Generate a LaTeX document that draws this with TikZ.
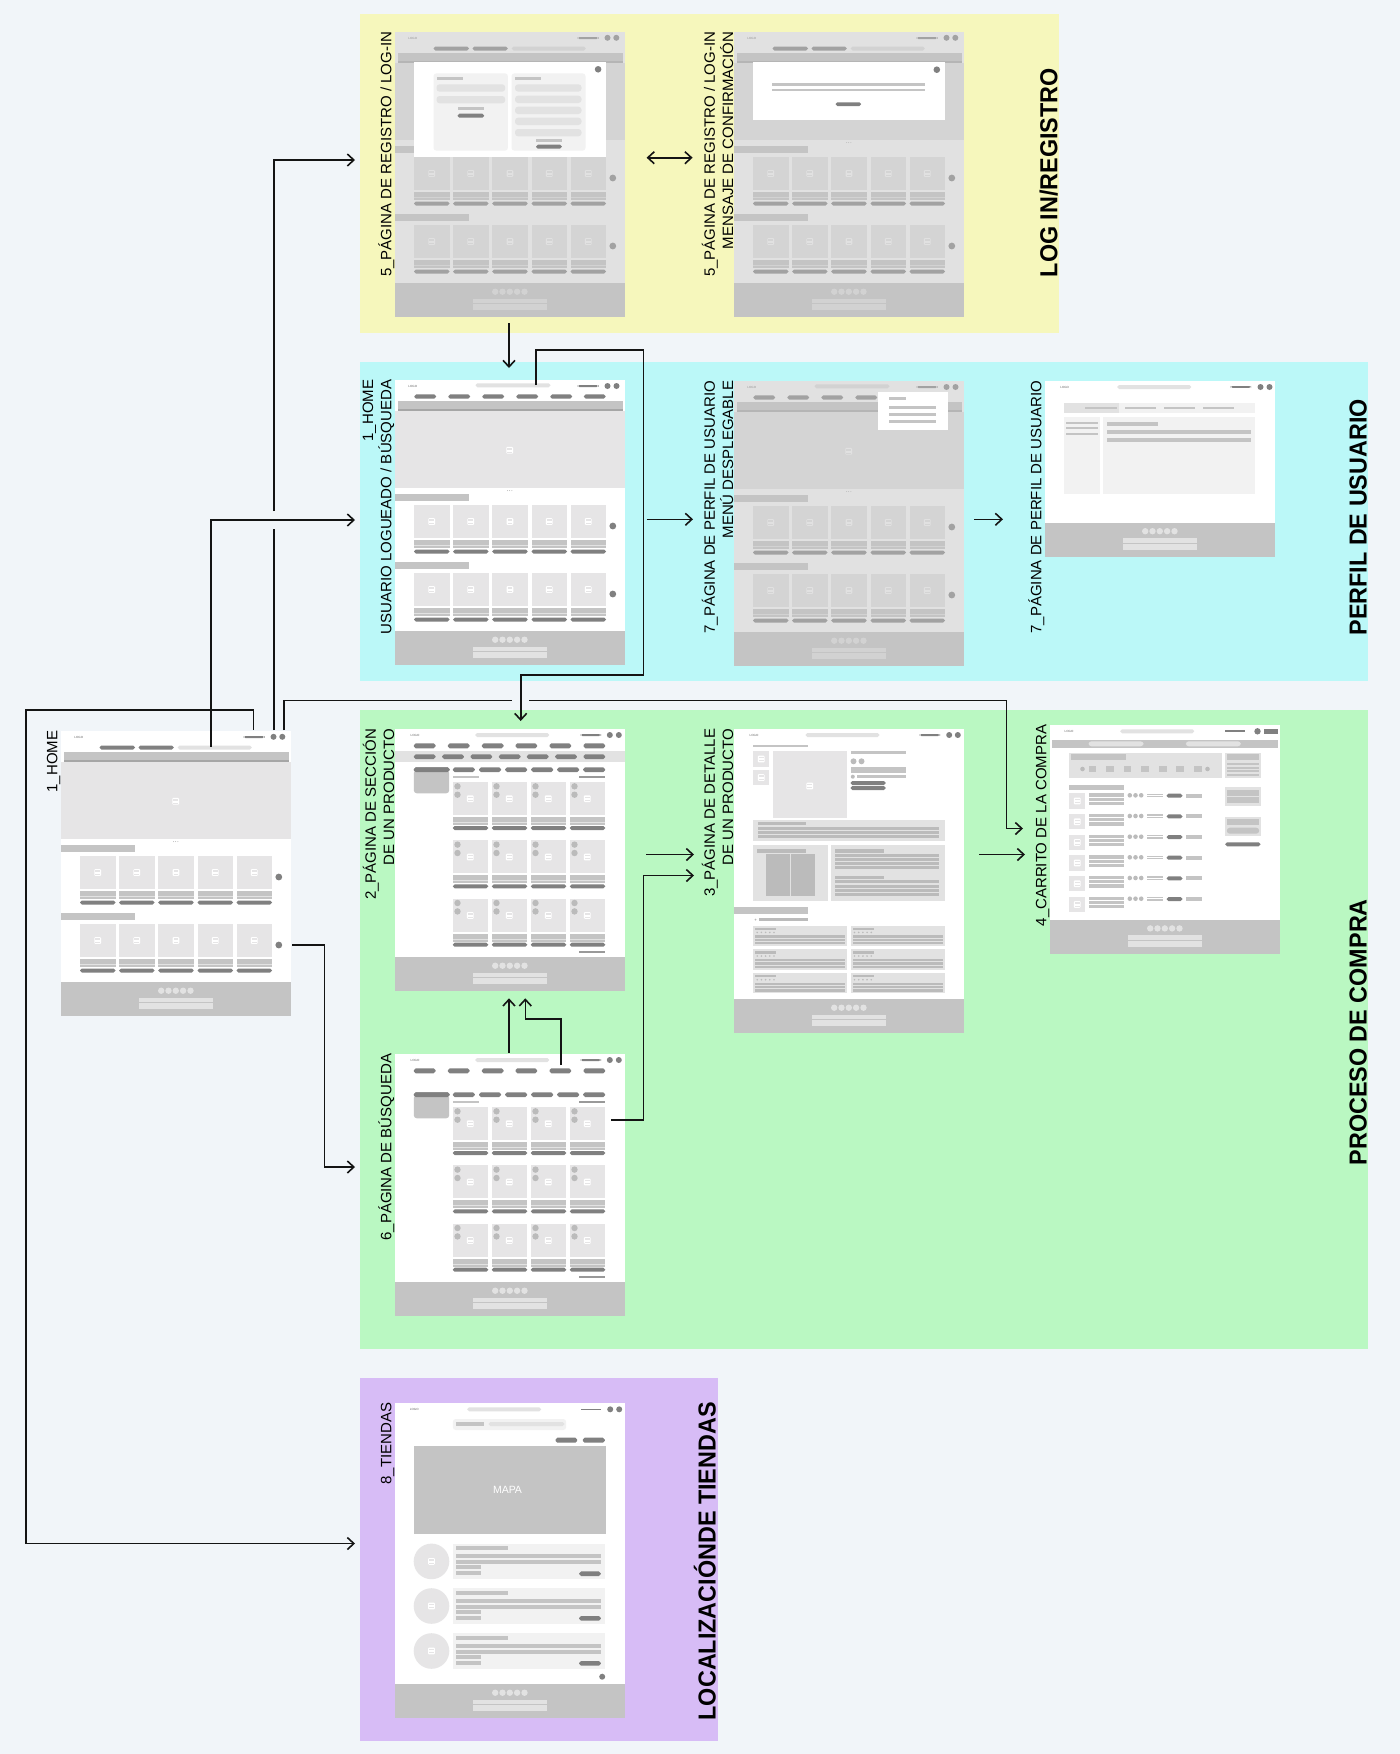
\documentclass[tikz,border=0pt]{standalone}
\usepackage{fontspec}
\setmainfont{Liberation Sans}
\newfontfamily\ttlfont[FakeStretch=0.95]{Liberation Sans}
\usetikzlibrary{arrows.meta}
\definecolor{bgpage}{HTML}{F1F5F9}
\definecolor{pyellow}{HTML}{F6F7BC}
\definecolor{pcyan}{HTML}{BBF8F8}
\definecolor{pgreen}{HTML}{BAF8C2}
\definecolor{ppurple}{HTML}{D7BCF6}
\definecolor{gA}{HTML}{C4C4C4}
\definecolor{gB}{HTML}{808080}
\definecolor{gC}{HTML}{E2E2E2}
\definecolor{gD}{HTML}{F2F2F2}
\definecolor{gE}{HTML}{E6E5E6}
\definecolor{gF}{HTML}{BBBBBB}
\definecolor{gG}{HTML}{999999}
\definecolor{gH}{HTML}{666666}
\definecolor{lnk}{HTML}{141414}
\newcommand\wfR[5]{\fill[#5] (#1,#2) rectangle (#3,#4);}
\newcommand\wfP[5]{\fill[#5,rounded corners=1.9pt] (#1,#2) rectangle (#3,#4);}
\newcommand\wfQ[5]{\fill[#5,rounded corners=3pt] (#1,#2) rectangle (#3,#4);}
\newcommand\wfD[4]{\fill[#4] (#1,#2) circle[radius=#3pt];}
\newcommand\wfI[2]{\begin{scope}[shift={(#1,#2)}]
  \fill[white,rounded corners=1pt] (-3.4,-3.4) rectangle (3.4,3.4);
  \fill[gE] (-2.4,-2.2) rectangle (2.4,-0.6);
  \fill[gE] (-2.4,1.2) rectangle (2.4,2.3);
\end{scope}}
\newcommand\wfLogo[2]{\node[logotxt] at (#1,#2) {LOGO};}
\newcommand\wfFooter[2][230.5]{\wfR{0}{#2}{#1}{#2+34}{gA}
  \foreach \cx in {100.7,108,115.3,122.6,130}{\wfD{\cx}{#2+8.7}{3.2}{gC}}
  \wfR{78}{#2+15.5}{152.7}{#2+20}{gC}
  \wfR{78}{#2+21.3}{152.7}{#2+27}{gC}}
\newcommand\wfCardsFive[1]{\foreach \cx in {19.5,58.6,97.7,137,176}{
  \wfR{\cx}{#1}{\cx+35.5}{#1+33}{gE}
  \wfI{\cx+17.7}{#1+16.5}
  \wfR{\cx}{#1+35}{\cx+35.5}{#1+43}{gA}
  \wfR{\cx}{#1+40}{\cx+35.5}{#1+40.8}{gC}
  \wfP{\cx}{#1+44.5}{\cx+35.5}{#1+48.5}{gB}}}
\newcommand\wfBody{
  \wfR{3}{21.3}{228}{30.5}{gA}
  \wfR{3}{29.2}{228}{30.8}{gG!70!gA}
  \wfR{0}{30.5}{230.5}{108.3}{gE}
  \wfI{115.2}{70.3}
  \foreach \cx in {113,115.2,117.4}{\wfD{\cx}{110.5}{0.5}{gF}}
  \wfR{0}{114}{74.5}{121}{gA}
  \wfCardsFive{125}
  \wfD{218.3}{146}{3.4}{gB}
  \wfR{0}{182.3}{74.5}{189.3}{gA}
  \wfCardsFive{193}
  \wfD{218.3}{214}{3.4}{gB}
  \wfFooter{251}}
\newcommand\wfHeadA{
  \wfLogo{18.3}{6.5}
  \wfP{183}{5}{204}{7}{gB}
  \wfD{213}{5.8}{3}{gB}
  \wfD{221.8}{5.8}{3}{gB}
  \wfP{39}{14.5}{74.5}{18.5}{gB}
  \wfP{78}{14.5}{113.3}{18.5}{gB}
  \wfP{117.2}{14.5}{191.3}{18.5}{gC}}
\newcommand\wfHeadB{
  \wfLogo{18.3}{6.5}
  \wfP{81}{3.3}{156}{7.3}{gC}
  \wfP{183}{5}{204}{7}{gB}
  \wfD{213}{6}{3}{gB}
  \wfD{222}{6}{3}{gB}
  \foreach \cx in {19.8,53.8,87.8,121.8,155.8,189.4}{\wfP{\cx}{14.3}{\cx+21.7}{18.7}{gB}}}
\newcommand\wfHeadC[3]{
  \wfLogo{20.5}{6.3}
  \wfP{#1}{4}{#1+74}{8}{gC}
  \wfP{186}{5}{206.5}{7}{gB}
  \wfD{#2}{6}{3}{gB}
  \wfD{#3}{6}{3}{gB}}
\newcommand\wfShade[1]{\fill[gA,opacity=.5] (0,0) rectangle (230.5,#1);}
\newcommand\wfShopCards{
  \foreach \ry in {53,111.3,169.7}{
    \foreach \cx in {58.3,97.3,136.3,175.3}{
      \wfR{\cx}{\ry}{\cx+35.5}{\ry+33}{gE}
      \wfD{\cx+4.7}{\ry+4.3}{3.2}{gF}
      \wfD{\cx+4.7}{\ry+12.7}{3.2}{gF}
      \wfI{\cx+17.5}{\ry+16.7}
      \wfR{\cx}{\ry+35}{\cx+35.5}{\ry+43}{gA}
      \wfR{\cx}{\ry+40}{\cx+35.5}{\ry+40.8}{gC}
      \wfP{\cx}{\ry+44}{\cx+35.5}{\ry+48}{gB}}}}
\newcommand\wfShopBody{
  \wfP{19.3}{38.3}{55}{43}{gB}
  \wfQ{19.3}{41}{54.7}{64.3}{gA}
  \wfP{19.3}{38.3}{55}{43}{gB}
  \foreach \cx in {58.3,84.6,110.7,136.7,162.7,188.7}{\wfP{\cx}{38.3}{\cx+22}{43}{gB}}
  \wfR{58.3}{47}{84.3}{49.3}{gA}
  \wfR{184.7}{47}{210.7}{49.3}{gG}
  \wfShopCards
  \wfR{184.7}{222}{210.7}{224.3}{gG}
  \wfFooter{228}}
\newcommand\wfHeadShop{
  \wfHeadC{80.7}{215.3}{224.3}
  \foreach \cx in {19.3,53.3,87.3,121,155,189}{\wfP{\cx}{14.3}{\cx+21.7}{19.3}{gB}}}
\tikzset{
  x=1pt,y=-1pt,
  logotxt/.style={font=\fontsize{3}{3.2}\selectfont,text=gH,inner sep=0pt},
  panel/.style={inner sep=0pt,outer sep=0pt,anchor=north west},
  page/.style={panel,fill=white,minimum width=230.5pt},
  pagelabel/.style={rotate=90,anchor=south east,inner sep=0pt,align=right,text=black,xshift=0.4pt,font=\fontsize{15}{18.3}\selectfont},
  grouptitle/.style={rotate=90,inner sep=0pt,text=black,font=\ttlfont\fontsize{24.6}{26}\selectfont\bfseries,anchor=south east},
  link/.style={draw=lnk,line width=1.6pt},
  linka/.style={link,-{Straight Barb[length=6.5pt,width=12pt,line width=1.6pt]}},
  linkb/.style={link,{Straight Barb[length=6.5pt,width=12pt,line width=1.6pt]}-{Straight Barb[length=6.5pt,width=12pt,line width=1.6pt]}},
}
\begin{document}
\begin{tikzpicture}
\useasboundingbox (0,0) rectangle (1400,1754);
\fill[bgpage] (0,0) rectangle (1400,1754);
% group panels
\node[panel,fill=pyellow,minimum width=698.5pt,minimum height=319pt] (gLogin) at (360,14) {};
\node[panel,fill=pcyan,minimum width=1007.5pt,minimum height=318.5pt] (gProfile) at (360,362) {};
\node[panel,fill=pgreen,minimum width=1007.5pt,minimum height=639.5pt] (gBuy) at (360,709.5) {};
\node[panel,fill=ppurple,minimum width=358pt,minimum height=363pt] (gStores) at (360,1378) {};
% page frames
\node[page,minimum height=285pt] (pHome) at (60.5,731) {};
\node[page,minimum height=285pt] (pLoginA) at (394.5,32) {};
\node[page,minimum height=285pt] (pLoginB) at (733.5,32) {};
\node[page,minimum height=285pt] (pUser) at (394.5,380) {};
\node[page,minimum height=285pt] (pMenu) at (733.5,381) {};
\node[page,minimum height=175pt] (pProfile) at (1044.5,381) {};
\node[page,minimum height=262pt] (pSection) at (394.5,729) {};
\node[page,minimum height=304pt] (pDetail) at (733.5,729) {};
\node[page,minimum height=229pt] (pCart) at (1049.5,725) {};
\node[page,minimum height=262pt] (pSearch) at (394.5,1054) {};
\node[page,minimum height=315pt] (pStores) at (394.5,1403) {};
% home
\begin{scope}[shift={(60.5,731)}]
  \wfHeadA \wfBody
\end{scope}
% login A
\begin{scope}[shift={(394.5,32)}]
  \wfHeadA \wfBody \wfShade{285}
  \wfR{19.6}{30}{211}{124.7}{white}
  \wfD{203.6}{37.3}{3.3}{gB}
  \wfQ{39}{41.3}{113.4}{118.7}{gD}
  \wfQ{117}{41.3}{191}{118.7}{gD}
  \wfR{42}{45.3}{68.5}{47.7}{gA}
  \wfR{120.5}{45.3}{146.4}{47.7}{gA}
  \wfQ{42}{52.3}{110.7}{59.7}{gC}
  \wfQ{42}{64}{110.7}{71.3}{gC}
  \wfR{63}{75.3}{89.7}{78}{gA}
  \wfP{63}{81.7}{89.7}{85.7}{gB}
  \foreach \ry in {52.3,63.7,74.7,85.7,97}{\wfQ{120.5}{\ry}{187}{\ry+7.3}{gC}}
  \wfR{141.5}{107.3}{167.4}{110}{gA}
  \wfP{141.5}{112.7}{167.4}{116.7}{gB}
\end{scope}
% login B
\begin{scope}[shift={(733.5,32)}]
  \wfHeadA \wfBody \wfShade{285}
  \wfR{19.6}{30.3}{211}{88.3}{white}
  \wfD{203.3}{37.7}{3.3}{gB}
  \wfR{38.8}{51}{191.5}{53.7}{gA}
  \wfR{38.8}{56.7}{191.5}{59.3}{gA}
  \wfP{102}{70.3}{127.7}{74}{gB}
\end{scope}
% logged user home
\begin{scope}[shift={(394.5,380)}]
  \wfHeadB \wfBody
\end{scope}
% user menu
\begin{scope}[shift={(733.5,381)}]
  \wfHeadB \wfBody \wfShade{285}
  \wfR{144.7}{11}{214.3}{48.7}{white}
  \wfR{155.4}{16.3}{172}{18.7}{gA}
  \wfR{155.4}{25.3}{202.5}{27.7}{gA}
  \wfR{155.4}{32.3}{202.5}{34.7}{gA}
  \wfR{155.4}{39}{202.5}{41.7}{gA}
\end{scope}
% profile
\begin{scope}[shift={(1044.5,381)}]
  \wfLogo{20.2}{6.3}
  \wfP{72.7}{4}{146.7}{8}{gC}
  \wfP{186}{5}{206.7}{6.8}{gB}
  \wfD{216}{6}{3}{gB}
  \wfD{225}{6}{3}{gB}
  \wfR{19.7}{21.7}{210.7}{31.7}{gD}
  \wfR{19.7}{21.7}{74.7}{31.7}{gC}
  \foreach \cx in {40.7,80,119,158}{\wfR{\cx}{25.7}{\cx+31.5}{28}{gA}}
  \wfR{19.7}{36.3}{55}{113}{gD}
  \wfR{21.7}{40.7}{53}{43}{gA}
  \wfR{21.7}{46}{53}{48.3}{gA}
  \wfR{21.7}{51.7}{53}{54}{gA}
  \wfR{58.7}{36.3}{210.7}{113}{gD}
  \wfR{62}{40.7}{113.3}{45}{gA}
  \wfR{62}{48.7}{206.7}{53}{gA}
  \wfR{62}{56.7}{206.7}{61}{gA}
  \wfFooter{141.5}
\end{scope}
% section
\begin{scope}[shift={(394.5,729)}]
  \wfHeadShop
  \wfR{0}{22.3}{230.5}{33}{gC}
  \foreach \cx in {19.3,47.7,76,104.3,132.3,160.7,189}{\wfP{\cx}{25.3}{\cx+21.7}{30}{gB}}
  \wfShopBody
\end{scope}
% search
\begin{scope}[shift={(394.5,1054)}]
  \wfHeadShop
  \wfShopBody
\end{scope}
% detail
\begin{scope}[shift={(733.5,729)}]
  \wfHeadC{72}{215.7}{224.3}
  \wfR{19.7}{15.7}{74.7}{18}{gA}
  \wfR{19.7}{22.3}{35.7}{37.7}{gE} \wfI{27.7}{30}
  \wfR{19.7}{41}{35.7}{56}{gE} \wfI{27.7}{48.5}
  \wfR{39}{22.3}{113.7}{89.3}{gE} \wfI{76.3}{57}
  \wfR{117}{22.3}{172}{25}{gA}
  \wfD{120}{32.3}{3}{gF}
  \wfD{128}{32.3}{3}{gF}
  \wfR{117}{37.7}{172}{44.3}{gA}
  \wfD{119.3}{47.7}{2}{gF}
  \wfR{123.3}{46}{172}{49.3}{gA}
  \wfP{117}{52}{152.3}{56}{gB}
  \wfP{117}{57}{152.3}{61}{gB}
  \wfR{19.7}{91}{211.3}{111.7}{gC}
  \wfR{24.3}{93.3}{72.7}{96.3}{gF}
  \foreach \ry in {97.7,102,106.3}{\wfR{24.3}{\ry}{205.7}{\ry+3}{gF}}
  \wfR{19.7}{115.7}{94}{172}{gC}
  \wfR{23.7}{120.3}{72}{123.7}{gF}
  \wfR{32.7}{124.7}{56.7}{167}{gF}
  \wfR{57.7}{124.7}{81.3}{167}{gF}
  \wfR{97.7}{115.7}{211.3}{172}{gC}
  \wfR{101.7}{120.3}{150}{123.7}{gF}
  \foreach \ry in {125,129,133.3,137.3,151.3,155.7,159.7,163.7}{\wfR{101.7}{\ry}{205.7}{\ry+3}{gF}}
  \wfR{101.7}{147}{150}{150.3}{gF}
  \wfR{0}{177.7}{74.7}{184.7}{gA}
  \wfD{22}{190.7}{1}{gF}
  \wfR{25.7}{189.3}{74.7}{192.3}{gF}
  \foreach \ry in {196.7,220.3,244}{
    \foreach \cx in {19.7,117}{
      \wfR{\cx}{\ry}{\cx+94.2}{\ry+20.3}{gC}
      \wfR{\cx+2}{\ry+2}{\cx+23}{\ry+4.3}{gF}
      \foreach \sx in {4,8.2,12.4,16.6,20.8}{\wfD{\cx+\sx}{\ry+6.7}{0.9}{gF}}
      \wfR{\cx+2}{\ry+9.7}{\cx+92}{\ry+12}{gF}
      \wfR{\cx+2}{\ry+13}{\cx+92}{\ry+15.3}{gF}
      \wfR{\cx+2}{\ry+16.3}{\cx+92}{\ry+18.7}{gF}}}
  \wfFooter{270}
\end{scope}
% cart
\begin{scope}[shift={(1049.5,725)}]
  \wfLogo{19.5}{6.3}
  \wfP{70.7}{4.3}{144.7}{8.3}{gC}
  \wfR{175}{5.3}{195.7}{7}{gB}
  \wfD{208}{6.3}{3.2}{gB}
  \wfR{214.3}{4}{228.3}{8.7}{gB}
  \wfR{2.7}{15}{228}{22.7}{gA}
  \wfQ{39}{16.3}{94}{21.3}{gC}
  \wfQ{136.3}{16.3}{191.3}{21.3}{gC}
  \wfR{19.7}{28}{172}{53.3}{gC}
  \wfR{21.3}{29.3}{76.3}{35.3}{gA}
  \foreach \cx in {39,56.7,74.2,91.8,109.4,126.9,144.4}{\wfR{\cx}{41}{\cx+7.6}{47}{gA}}
  \wfD{33}{44}{2.3}{gF}
  \wfD{158}{44}{2.3}{gF}
  \wfR{175.7}{28}{211}{53.3}{gC}
  \wfR{177.3}{29.3}{209.7}{35.3}{gA}
  \foreach \ry in {38,41.7,45.3,49}{\wfR{177.3}{\ry}{209.7}{\ry+2}{gA}}
  \wfR{175.7}{62}{211}{81}{gC}
  \wfR{177.3}{65}{209.7}{71}{gA}
  \wfR{177.3}{72.3}{209.7}{78.3}{gA}
  \wfR{175.7}{91.7}{211}{111.3}{gC}
  \wfR{177.3}{94}{209.7}{100}{gA}
  \wfQ{177.3}{102.7}{209.7}{108.7}{gA}
  \wfP{175.7}{117.3}{211}{121.3}{gB}
  \wfR{19.7}{59.7}{74.3}{65}{gA}
  \foreach \ry in {68.3,89,109.7,130.3,151,171.7}{
    \wfR{19.7}{\ry}{35.7}{\ry+15.4}{gE} \wfI{27.7}{\ry+7.7}
    \wfR{39}{\ry}{74.3}{\ry+3.3}{gA}
    \wfR{39}{\ry+4.3}{74.3}{\ry+7.3}{gA}
    \wfR{39}{\ry+8.3}{74.3}{\ry+11.6}{gA}
    \foreach \cx in {80.3,86,91.7}{\wfD{\cx}{\ry+2}{2.3}{gF}}
    \wfR{97.3}{\ry+.4}{113.7}{\ry+1.7}{gA}
    \wfR{97.3}{\ry+2.7}{113.7}{\ry+4}{gA}
    \wfP{117}{\ry+.4}{133}{\ry+4.4}{gB}
    \wfR{136.7}{\ry+.4}{152.7}{\ry+4.4}{gA}}
  \wfFooter{194.7}
\end{scope}
% stores
\begin{scope}[shift={(394.5,1403)}]
  \wfLogo{19.8}{6.3}
  \wfP{72.7}{4.3}{146.7}{8.3}{gC}
  \wfR{186}{5.7}{206.7}{7.4}{gB}
  \wfD{215.7}{6.3}{3}{gB}
  \wfD{224.7}{6.3}{3}{gB}
  \wfQ{58.3}{16}{171.7}{27}{gD}
  \wfR{61.3}{19}{89.7}{23}{gA}
  \wfP{94}{19}{170}{23}{gC}
  \wfP{161}{34.7}{182.7}{39.7}{gB}
  \wfP{188.3}{34.7}{210.3}{39.7}{gB}
  \wfR{19.3}{42.7}{211}{131}{gA}
  \node[inner sep=0pt,text=white,font=\fontsize{10.5}{12}\selectfont] (tMap) at (113,87) {MAPA};
  \foreach \ry in {140.7,185.3,230.3}{
    \wfD{37}{\ry+17.7}{17.8}{gE} \wfI{37}{\ry+17.7}
    \wfR{58.3}{\ry}{210.7}{\ry+35.3}{gD}
    \wfR{61.3}{\ry+2.3}{113.3}{\ry+6.3}{gA}
    \wfR{61.3}{\ry+10.3}{206.3}{\ry+14.3}{gA}
    \wfR{61.3}{\ry+16.3}{206.3}{\ry+20.3}{gA}
    \wfR{61.3}{\ry+21.7}{86}{\ry+25.7}{gA}
    \wfR{61.3}{\ry+27.7}{86}{\ry+31.3}{gA}
    \wfP{184.7}{\ry+27.7}{206.3}{\ry+32.3}{gB}}
  \wfD{207.7}{273.7}{3}{gB}
  \wfFooter{281}
\end{scope}
% page labels
\node[pagelabel] (lHome) at (60.5,731) {1\_HOME};
\node[pagelabel] (lLoginA) at (394.5,32) {5\_PÁGINA DE REGISTRO / LOG-IN};
\node[pagelabel] (lLoginB) at (733.5,32) {5\_PÁGINA DE REGISTRO / LOG-IN\\MENSAJE DE CONFIRMACIÓN};
\node[pagelabel] (lUser) at (394.5,380) {1\_HOME\\USUARIO LOGUEADO / BÚSQUEDA};
\node[pagelabel] (lMenu) at (733.5,381) {7\_PÁGINA DE PERFIL DE USUARIO\\MENÚ DESPLEGABLE};
\node[pagelabel] (lProfile) at (1044.5,381) {7\_PÁGINA DE PERFIL DE USUARIO};
\node[pagelabel] (lSection) at (394.5,729) {2\_PÁGINA DE SECCIÓN\\DE UN PRODUCTO};
\node[pagelabel] (lDetail) at (733.5,729) {3\_PÁGINA DE DETALLE\\DE UN PRODUCTO};
\node[pagelabel] (lCart) at (1049.5,725) {4\_CARRITO DE LA COMPRA};
\node[pagelabel] (lSearch) at (394.5,1054) {6\_PÁGINA DE BÚSQUEDA};
\node[pagelabel] (lStores) at (394.5,1403) {8\_TIENDAS};
% group titles
\node[grouptitle] (tLogin) at (1058,68) {LOG IN/REGISTRO};
\node[grouptitle] (tProfile) at (1367,399) {PERFIL DE USUARIO};
\node[grouptitle] (tBuy) at (1367,899) {PROCESO DE COMPRA};
\node[grouptitle] (tStores) at (716,1402) {LOCALIZACIÓNDE TIENDAS};
% connector anchors
\coordinate (aHomeBar) at (253.3,729.5);
\coordinate (aHomeL) at (25.7,710);
\coordinate (aStoresL) at (25.7,1543.5);
\coordinate (aStores) at (355,1543.5);
\coordinate (aHomeS) at (210.7,746.5);
\coordinate (aUserC) at (210.7,520);
\coordinate (aUserIn) at (355,520);
\coordinate (aHomeD1) at (273.7,730);
\coordinate (aGapLow) at (273.7,529);
\coordinate (aGapHigh) at (273.7,511);
\coordinate (aLoginC) at (273.7,160);
\coordinate (aLoginIn) at (355,160);
\coordinate (aHomeD2) at (283.7,730);
\coordinate (aCartC1) at (283.7,700.3);
\coordinate (aGapL) at (511.7,700.3);
\coordinate (aGapR) at (529.3,700.3);
\coordinate (aCartC2) at (1006.5,700.3);
\coordinate (aCartC3) at (1006.5,828.5);
\coordinate (aCartIn) at (1023,828.5);
\coordinate (aUserS) at (536,385);
\coordinate (aUC1) at (536,350);
\coordinate (aUC2) at (643.3,350);
\coordinate (aUC3) at (643.3,675);
\coordinate (aUC4) at (520.7,675);
\coordinate (aSecIn) at (520.7,721);
\coordinate (aHomeDot) at (292.3,945);
\coordinate (aSrC1) at (324.3,945);
\coordinate (aSrC2) at (324.3,1167);
\coordinate (aSrIn) at (355,1167);
\coordinate (aLogOut) at (509,323);
\coordinate (aLogIn) at (509,368);
\coordinate (aDL) at (646.6,157.7);
\coordinate (aDR) at (692.6,157.7);
\coordinate (aHU) at (646.7,519.3);
\coordinate (aHV) at (693,519.3);
\coordinate (aMU) at (974,519.3);
\coordinate (aMV) at (1003,519.3);
\coordinate (aSD) at (646,854.5);
\coordinate (aSE) at (694,854.5);
\coordinate (aDC) at (979,854.5);
\coordinate (aDE) at (1025,854.5);
\coordinate (aBS) at (611,1120);
\coordinate (aBC1) at (643.3,1120);
\coordinate (aBC2) at (643.3,875.5);
\coordinate (aBD) at (694,875.5);
\coordinate (aS1a) at (509,1052.7);
\coordinate (aS1b) at (509,998.3);
\coordinate (aS2a) at (561,1065);
\coordinate (aS2b) at (561,1018.7);
\coordinate (aS2c) at (525.3,1018.7);
\coordinate (aS2d) at (525.3,998.3);
% connectors
\draw[linka] (aHomeBar) |- (aHomeL) -- (aStoresL) -- (aStores);
\draw[linka] (aHomeS) -- (aUserC) -- (aUserIn);
\draw[link] (aHomeD1) -- (aGapLow);
\draw[linka] (aGapHigh) -- (aLoginC) -- (aLoginIn);
\draw[link] (aHomeD2) -- (aCartC1) -- (aGapL);
\draw[linka] (aGapR) -- (aCartC2) -- (aCartC3) -- (aCartIn);
\draw[linka] (aUserS) -- (aUC1) -- (aUC2) -- (aUC3) -- (aUC4) -- (aSecIn);
\draw[linka] (aHomeDot) -- (aSrC1) -- (aSrC2) -- (aSrIn);
\draw[linka] (aLogOut) -- (aLogIn);
\draw[linkb] (aDL) -- (aDR);
\draw[linka] (aHU) -- (aHV);
\draw[linka] (aMU) -- (aMV);
\draw[linka] (aSD) -- (aSE);
\draw[linka] (aDC) -- (aDE);
\draw[linka] (aBS) -- (aBC1) -- (aBC2) -- (aBD);
\draw[linka] (aS1a) -- (aS1b);
\draw[linka] (aS2a) -- (aS2b) -- (aS2c) -- (aS2d);
\end{tikzpicture}
\end{document}
